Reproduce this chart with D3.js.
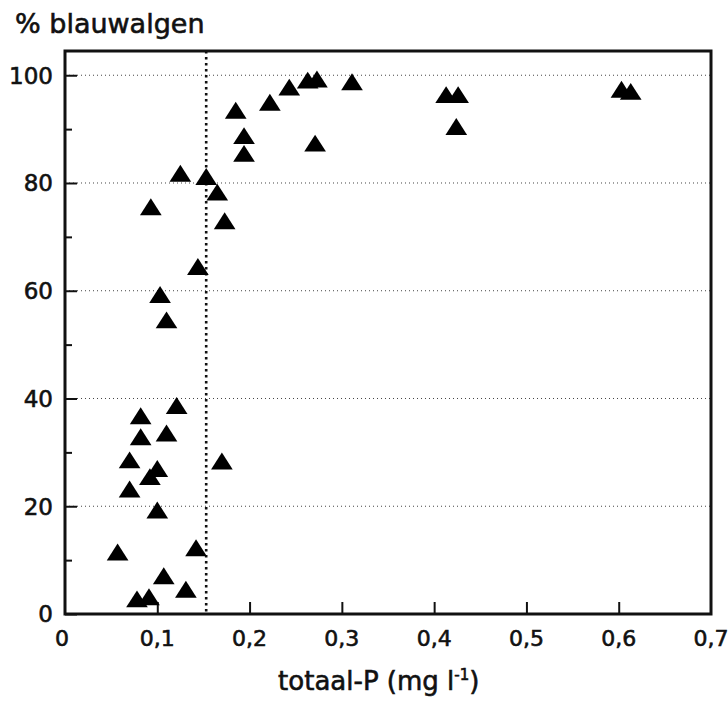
<!DOCTYPE html>
<html>
<head>
<meta charset="utf-8">
<script src="https://cdn.jsdelivr.net/npm/d3@7"></script>
<style>
  body { margin: 0; background: #fff; }
  text { font-family: "DejaVu Sans", sans-serif; fill: #111; stroke: #111; stroke-width: 0.6px; }
</style>
</head>
<body>
<svg></svg>
<script>
// totaal-P (mg/l) against % blauwalgen, one triangle per sample
const totaalP = [0.057, 0.078, 0.091, 0.107, 0.131, 0.142, 0.100, 0.070, 0.070, 0.092,
  0.100, 0.082, 0.082, 0.110, 0.121, 0.170, 0.103, 0.110, 0.144, 0.093,
  0.125, 0.153, 0.165, 0.173, 0.185, 0.194, 0.194, 0.222, 0.243, 0.263,
  0.273, 0.271, 0.311, 0.413, 0.426, 0.424, 0.603, 0.613];
const blauwalgen = [11.5, 2.8, 3.2, 7.1, 4.6, 12.3, 19.3, 23.2, 28.6, 25.5,
  27.0, 32.9, 36.8, 33.6, 38.7, 28.4, 59.3, 54.6, 64.5, 75.6,
  81.8, 81.2, 78.3, 73.0, 93.5, 88.8, 85.5, 95.0, 97.8, 99.1,
  99.3, 87.4, 98.8, 96.4, 96.4, 90.5, 97.4, 97.0];

const xTicks = [0, 0.1, 0.2, 0.3, 0.4, 0.5, 0.6, 0.7];
const yTicks = [0, 20, 40, 60, 80, 100];
const yMinorTicks = [10, 30, 50, 70, 90];
const gridValues = [20, 40, 60, 80, 100];
const threshold = 0.153;

const WIDTH = 728;
const HEIGHT = 704;
const margin = {top: 51, left: 65, right: 17, bottom: 90};
const w = WIDTH - margin.left - margin.right;
const h = HEIGHT - margin.top - margin.bottom;

const svg = d3.select('svg')
    .attr('width', WIDTH)
    .attr('height', HEIGHT);

const x = d3.scaleLinear().domain([0, 0.7]).range([0, w]);
const y = d3.scaleLinear().domain([0, 104.5]).range([h, 0]);

const g = svg.append('g')
    .attr('transform', `translate(${margin.left},${margin.top})`);

// horizontal dotted grid
g.selectAll('.grid')
  .data(gridValues)
  .join('line')
    .attr('class', 'grid')
    .attr('x1', 0)
    .attr('x2', w)
    .attr('y1', (d) => y(d))
    .attr('y2', (d) => y(d))
    .attr('stroke', '#444')
    .attr('stroke-width', 1)
    .attr('stroke-dasharray', '1,3');

// vertical dotted line at the threshold
g.append('line')
    .attr('x1', x(threshold))
    .attr('x2', x(threshold))
    .attr('y1', 0)
    .attr('y2', h)
    .attr('stroke', '#111')
    .attr('stroke-width', 2.6)
    .attr('stroke-dasharray', '2.5,3.5');

// frame
g.append('rect')
    .attr('width', w)
    .attr('height', h)
    .attr('fill', 'none')
    .attr('stroke', '#111')
    .attr('stroke-width', 3);

// y axis: inward ticks, labels drawn on the left
const yAxis = d3.axisRight(y)
    .tickValues(yTicks)
    .tickSize(12)
    .tickFormat('');
g.append('g').call(yAxis)
    .call((s) => s.select('.domain').remove())
    .selectAll('line').attr('stroke', '#111').attr('stroke-width', 2);

g.append('g').call(d3.axisRight(y).tickValues(yMinorTicks).tickSize(7).tickFormat(''))
    .call((s) => s.select('.domain').remove())
    .selectAll('line').attr('stroke', '#111').attr('stroke-width', 2);

g.selectAll('.ylab')
  .data(yTicks)
  .join('text')
    .attr('class', 'ylab')
    .attr('x', -12)
    .attr('y', (d) => y(d))
    .attr('dy', '0.36em')
    .attr('text-anchor', 'end')
    .attr('font-size', 23)
    .text((d) => d);

// x axis: inward ticks for 0,1 .. 0,6
g.append('g')
    .attr('transform', `translate(0,${h})`)
    .call(d3.axisTop(x).tickValues(xTicks.slice(1, -1)).tickSize(12).tickFormat(''))
    .call((s) => s.select('.domain').remove())
    .selectAll('line').attr('stroke', '#111').attr('stroke-width', 2);

const fmt = (d) => (d === 0 ? '0' : d3.format('.1f')(d).replace('.', ','));
g.selectAll('.xlab')
  .data(xTicks)
  .join('text')
    .attr('class', 'xlab')
    .attr('x', (d) => x(d) - (d === 0 ? 3 : 0))
    .attr('y', h + 32)
    .attr('text-anchor', 'middle')
    .attr('font-size', 22)
    .text(fmt);

// triangles, a little wider than tall like in the print
const triangle = {
  draw(context, size) {
    const hw = Math.sqrt(size) / 2;
    const hh = hw * 0.78;
    context.moveTo(0, -hh);
    context.lineTo(hw, hh);
    context.lineTo(-hw, hh);
    context.closePath();
  },
};
const points = totaalP.map((v, i) => [v, blauwalgen[i]]);
g.selectAll('.pt')
  .data(points)
  .join('path')
    .attr('class', 'pt')
    .attr('d', d3.symbol(triangle, 470))
    .attr('transform', (d) => `translate(${x(d[0])},${y(d[1])})`)
    .attr('fill', '#000');

// titles
svg.append('text')
    .attr('x', 15)
    .attr('y', 33)
    .attr('font-size', 27)
    .text('% blauwalgen');

const xt = svg.append('text')
    .attr('x', margin.left + x(0.34))
    .attr('y', 690)
    .attr('text-anchor', 'middle')
    .attr('font-size', 26)
    .text('totaal-P (mg l');
xt.append('tspan')
    .attr('dy', -10)
    .attr('font-size', 15)
    .text('-1');
xt.append('tspan')
    .attr('dy', 10)
    .text(')');
</script>
</body>
</html>
